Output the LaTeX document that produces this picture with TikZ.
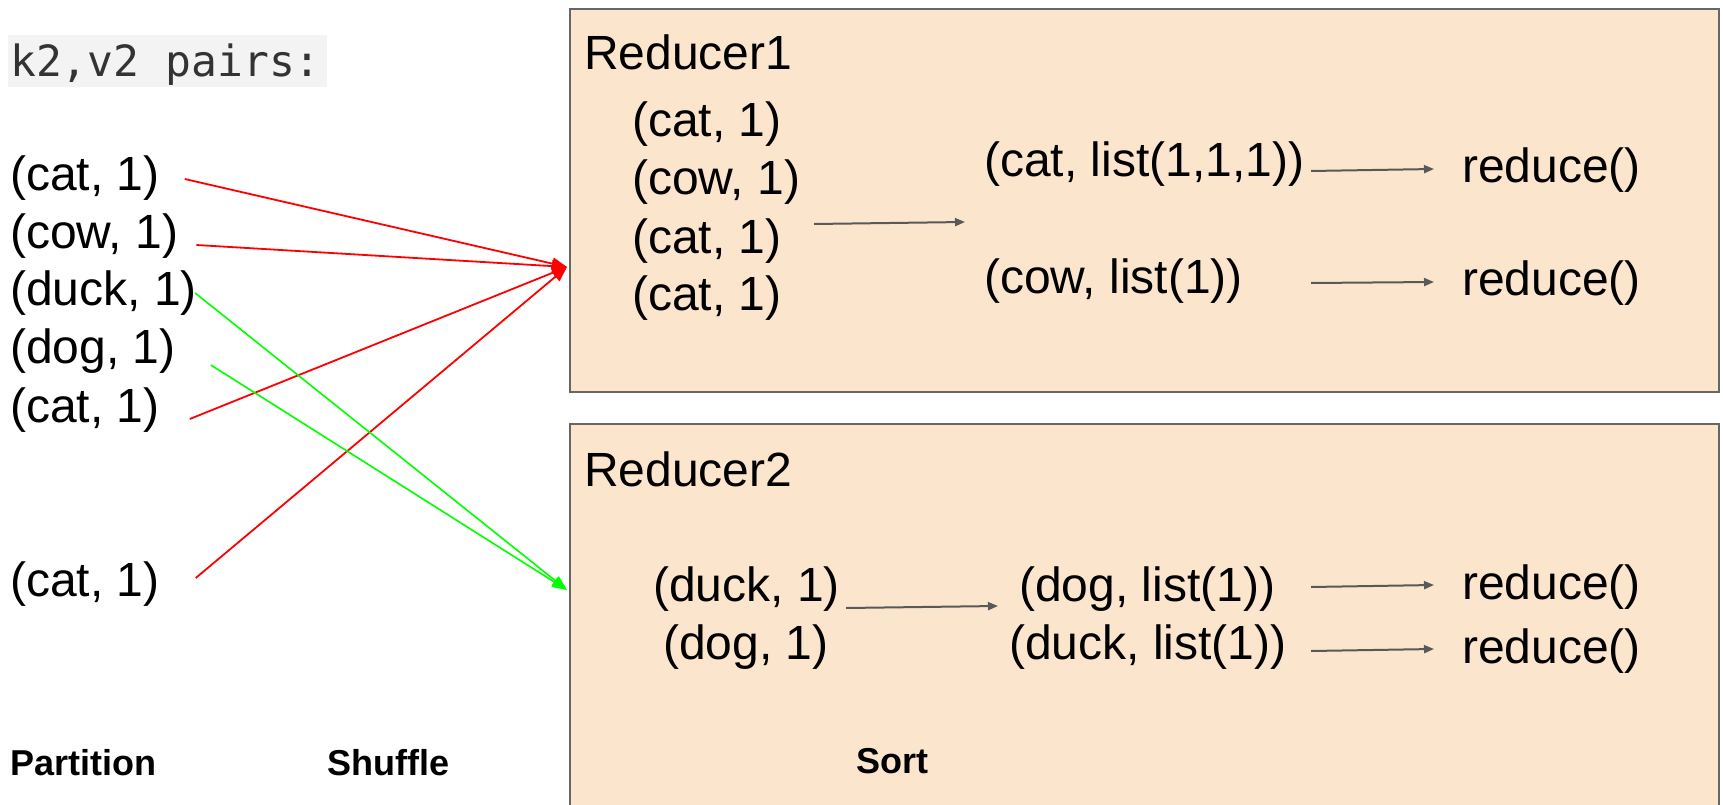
\documentclass[tikz,border=0pt]{standalone}
\usepackage{fontspec}
\setmainfont{Liberation Sans}
\newfontfamily\codefont{DejaVu Sans Mono}
\usetikzlibrary{arrows.meta}
\definecolor{boxfill}{HTML}{FCE5CD}
\definecolor{boxline}{HTML}{666666}
\definecolor{codebg}{HTML}{F3F3F3}
\definecolor{codefg}{HTML}{333333}
\definecolor{arrowgray}{HTML}{595959}
\begin{document}
\begin{tikzpicture}[x=1pt,y=-1pt,
  txt/.style={anchor=base west,inner sep=0pt,font=\fontsize{48}{56}\selectfont},
  lbl/.style={anchor=base west,inner sep=0pt,font=\fontsize{36}{42}\selectfont\bfseries},
  rbox/.style={draw=boxline,line width=2pt,fill=boxfill,anchor=north west,inner sep=0pt},
  redline/.style={draw=red,line width=1.8pt,-{Triangle[length=15pt,width=12pt]}},
  greenline/.style={draw=green,line width=1.6pt,-{Triangle[length=15pt,width=11pt]}},
  grayarrow/.style={draw=arrowgray,line width=2pt,-{Triangle[length=10pt,width=8pt]}}]
\clip (0,0) rectangle (1723,805);
\useasboundingbox (0,0) rectangle (1723,805);
% code label
\node[fill=codebg,anchor=north west,minimum width=319pt,minimum height=52pt,inner sep=0pt] (codebg) at (8,35) {};
\node[anchor=base west,inner sep=0pt,text=codefg,font=\codefont\fontsize{43}{50}\selectfont] (code) at (10,77) {k2,v2 pairs:};
% left list
\node[txt] (c1) at (10,191) {(cat, 1)};
\node[txt] (c2) at (10,248) {(cow, 1)};
\node[txt] (c3) at (10,305) {(duck, 1)};
\node[txt] (c4) at (10,363) {(dog, 1)};
\node[txt] (c5) at (10,422) {(cat, 1)};
\node[txt] (c6) at (10,596) {(cat, 1)};
% reducer boxes
\node[rbox,minimum width=1149pt,minimum height=383pt] (R1) at (569,8) {};
\node[rbox,minimum width=1149pt,minimum height=420pt] (R2) at (569,423) {};
\coordinate (r1in) at (567,267);
\coordinate (r2in) at (567,590);
% Reducer1 content
\node[txt] (t1) at (584,70) {Reducer1};
\node[txt] (a1) at (632,137) {(cat, 1)};
\node[txt] (a2) at (632,195) {(cow, 1)};
\node[txt] (a3) at (632,253) {(cat, 1)};
\node[txt] (a4) at (632,310) {(cat, 1)};
\node[txt] (l1) at (984,177) {(cat, list(1,1,1))};
\node[txt] (l2) at (984,293) {(cow, list(1))};
\node[txt] (f1) at (1462,183) {reduce()};
\node[txt] (f2) at (1462,295) {reduce()};
% Reducer2 content
\node[txt] (t2) at (584,486) {Reducer2};
\node[txt] (b1) at (653,601) {(duck, 1)};
\node[txt] (b2) at (663,659) {(dog, 1)};
\node[txt] (m1) at (1019,601) {(dog, list(1))};
\node[txt] (m2) at (1009,659) {(duck, list(1))};
\node[txt] (g1) at (1462,599) {reduce()};
\node[txt] (g2) at (1462,663) {reduce()};
% bottom labels
\node[lbl] (p1) at (10,775) {Partition};
\node[lbl] (p2) at (327,775) {Shuffle};
\node[lbl] (p3) at (856,773) {Sort};
% shuffle connectors
\draw[redline] ([xshift=25pt,yshift=12pt]c1.base east) -- (r1in);
\draw[redline] ([xshift=18pt,yshift=3pt]c2.base east) -- (r1in);
\draw[redline] ([xshift=30pt,yshift=3pt]c5.base east) -- (r1in);
\draw[redline] ([xshift=36pt,yshift=18pt]c6.base east) -- (r1in);
\draw[greenline] ([xshift=-2pt,yshift=12pt]c3.base east) -- (r2in);
\draw[greenline] ([xshift=35pt,yshift=-2pt]c4.base east) -- (r2in);
% sort / reduce arrows
\coordinate (s1a) at (814,224); \coordinate (s1b) at (965,222);
\coordinate (s2a) at (846,608); \coordinate (s2b) at (998,606);
\coordinate (u1a) at (1311,171); \coordinate (u1b) at (1434,169);
\coordinate (u2a) at (1311,283); \coordinate (u2b) at (1434,282);
\coordinate (v1a) at (1311,587); \coordinate (v1b) at (1434,585);
\coordinate (v2a) at (1311,651); \coordinate (v2b) at (1434,649);
\draw[grayarrow] (s1a) -- (s1b);
\draw[grayarrow] (s2a) -- (s2b);
\draw[grayarrow] (u1a) -- (u1b);
\draw[grayarrow] (u2a) -- (u2b);
\draw[grayarrow] (v1a) -- (v1b);
\draw[grayarrow] (v2a) -- (v2b);
\end{tikzpicture}
\end{document}
